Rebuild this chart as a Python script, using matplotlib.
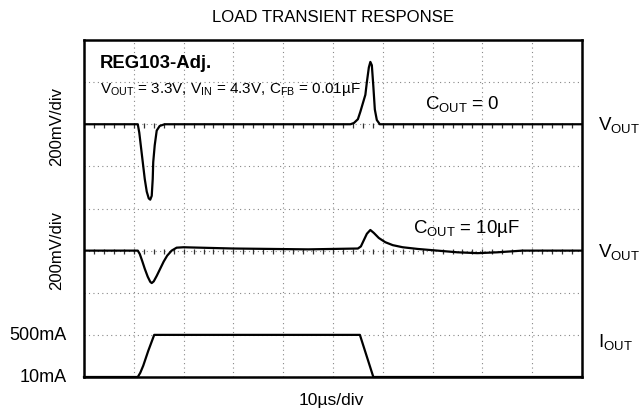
import numpy as np
import matplotlib
matplotlib.use('Agg')
import matplotlib.pyplot as plt

plt.rcParams['font.family'] = ['Liberation Sans', 'DejaVu Sans']
plt.rcParams['mathtext.fontset'] = 'custom'
plt.rcParams['mathtext.rm'] = 'Liberation Sans'
plt.rcParams['mathtext.it'] = 'Liberation Sans'

# traces, in scope divisions (x: 10 div, y: 8 div)
vout0_x = [0, 1.08, 1.11, 1.15, 1.18, 1.22, 1.26, 1.30, 1.33, 1.36, 1.38, 1.39, 1.42, 1.46, 1.52, 1.62,
           5.35, 5.42, 5.50, 5.55, 5.60, 5.65, 5.68, 5.72, 5.75, 5.78, 5.81, 5.84, 5.88, 5.94, 10]
vout0_y = [6.0, 6.0, 5.8, 5.4, 5.1, 4.7, 4.4, 4.24, 4.21, 4.3, 4.7, 5.1, 5.5, 5.85, 5.96, 6.0,
           6.0, 6.03, 6.12, 6.3, 6.5, 6.7, 7.0, 7.35, 7.48, 7.4, 6.9, 6.35, 6.1, 6.0, 6.0]

vout10_x = [0, 1.08, 1.12, 1.17, 1.22, 1.28, 1.33, 1.36, 1.40, 1.46, 1.53, 1.60, 1.67, 1.76, 1.86, 2.0,
            3.0, 4.5, 5.5, 5.56, 5.62, 5.68, 5.75, 5.82, 5.92, 6.05, 6.2, 6.4, 6.7, 7.1, 7.5, 7.9,
            8.3, 8.8, 10]
vout10_y = [3.0, 3.0, 2.92, 2.75, 2.57, 2.38, 2.26, 2.23, 2.27, 2.4, 2.57, 2.74, 2.88, 3.0, 3.07, 3.08,
            3.05, 3.03, 3.05, 3.1, 3.25, 3.4, 3.49, 3.42, 3.3, 3.2, 3.13, 3.08, 3.04, 3.0, 2.96, 2.94,
            2.96, 3.0, 3.0]

iout_x = [0, 1.08, 1.13, 1.19, 1.29, 1.41, 5.54, 5.81, 10]
iout_y = [0, 0, 0.1, 0.27, 0.62, 1.0, 1.0, 0.0, 0]

fig = plt.figure(figsize=(6.42, 4.14), dpi=100)
ax = fig.add_axes([84 / 642, 36 / 414, 498 / 642, 337 / 414])
ax.set_xlim(0, 10)
ax.set_ylim(0, 8)
ax.set_xticks(np.arange(0, 11))
ax.set_yticks(np.arange(0, 9))
ax.tick_params(length=0, labelleft=False, labelbottom=False)
ax.grid(True, color='#888888', linestyle=(0, (1, 3)), linewidth=0.8)
for s in ax.spines.values():
    s.set_linewidth(1.8)

# graticule ticks on the two trace baselines
tk = np.arange(0.2, 10, 0.2)
for yb in (6, 3):
    ax.vlines(tk, yb - 0.08, yb + 0.03, color='#333333', linewidth=0.9)

ax.plot(vout0_x, vout0_y, color='black', lw=1.6, solid_joinstyle='round')
ax.plot(vout10_x, vout10_y, color='black', lw=1.6, solid_joinstyle='round')
ax.plot(iout_x, iout_y, color='black', lw=1.6, solid_joinstyle='round', clip_on=False)

ax.text(0.032, 0.932, 'REG103-Adj.', transform=ax.transAxes, fontsize=13.3, fontweight='bold',
        va='center', ha='left')
ax.text(0.032, 0.856, r'$\mathregular{V_{OUT}}$ = 3.3V, $\mathregular{V_{IN}}$ = 4.3V, '
        r'$\mathregular{C_{FB}}$ = 0.01µF', transform=ax.transAxes, fontsize=11,
        va='center', ha='left')
ax.text(6.84, 6.5, r'$\mathregular{C_{OUT}}$ = 0', fontsize=13.4, va='center', ha='left')
ax.text(6.6, 3.55, r'$\mathregular{C_{OUT}}$ = 10µF', fontsize=13.4, va='center', ha='left')

fig.text(333 / 642, 1 - 18 / 414, 'LOAD TRANSIENT RESPONSE', fontsize=12.1, ha='center', va='center')
fig.text(331 / 642, 1 - 401 / 414, '10µs/div', fontsize=12.6, ha='center', va='center')
fig.text(57 / 642, 1 - 126 / 414, '200mV/div', fontsize=12, rotation=90, ha='center', va='center')
fig.text(57 / 642, 1 - 251 / 414, '200mV/div', fontsize=12, rotation=90, ha='center', va='center')
fig.text(67 / 642, 1 - 336 / 414, '500mA', fontsize=13, ha='right', va='center')
fig.text(67 / 642, 1 - 378 / 414, '10mA', fontsize=13, ha='right', va='center')
fig.text(598 / 642, 1 - 125 / 414, r'$\mathregular{V_{OUT}}$', fontsize=13.5, ha='left', va='center')
fig.text(598 / 642, 1 - 252 / 414, r'$\mathregular{V_{OUT}}$', fontsize=13.5, ha='left', va='center')
fig.text(598 / 642, 1 - 342 / 414, r'$\mathregular{I_{OUT}}$', fontsize=13.5, ha='left', va='center')

fig.savefig('out.png', dpi=100)
